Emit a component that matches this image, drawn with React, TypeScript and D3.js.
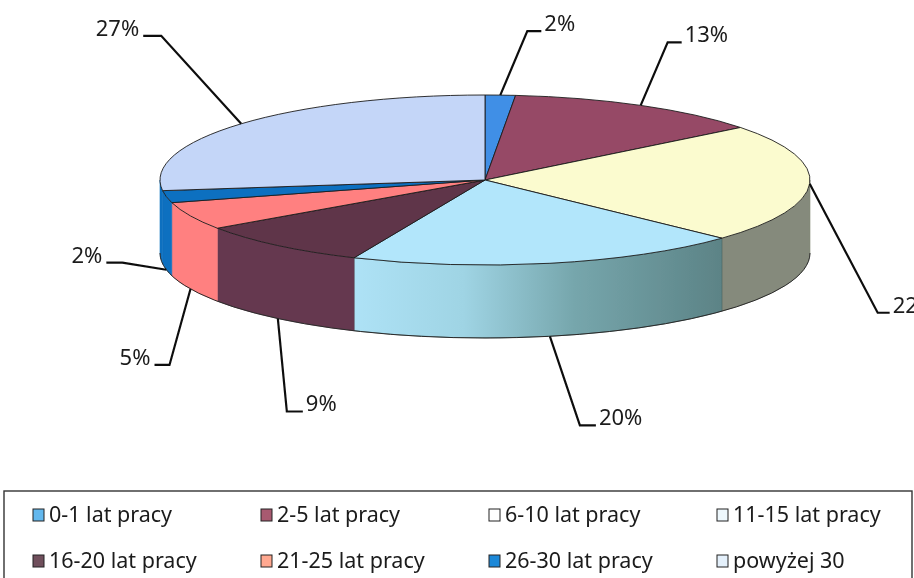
import React from "react";
import * as d3 from "d3";

const categories = ["0-1 lat pracy","2-5 lat pracy","6-10 lat pracy","11-15 lat pracy","16-20 lat pracy","21-25 lat pracy","26-30 lat pracy","powyżej 30"];
const labels = ["2%","13%","22%","20%","9%","5%","2%","27%"];
// slice shares as drawn in the picture (the printed labels are rounded)
const values = [1.5,12.9,22.6,19.6,8.8,5.3,2.3,27.0];
const topColors = ["#3f8fe6","#964866","#fbfbcf","#b2e6fb","#5f3548","#ff8080","#0f70c0","#c4d6f8"];
const sideColors = ["#2f70b8","#6f3048","#858a7b","url(#sideBlue)","#65394f","#ff8080","#0f70c0","#0f70c0"];
const legendColors = ["#63b8ee","#a85a70","#ffffff","#eef8fd","#6f4f5c","#ffa890","#1f88d8","#e4f0fb"];
// elbow and label end, relative to the rim anchor
const elbowOffsets: [number,number,number][] = [
  [27,-64,41],[27,-63,41],[68,129,80],[30,89,46],[9,93,25],[-21,76,-36],[-44,-7,-60],[-80,-88,-98],
];
const labelSide = ["start","start","start","start","start","end","end","end"];

const W=914,H=578,cx=485,cy=180,rx=325,ry=85,depth=73;
const px=(a:number)=>cx+rx*Math.sin(a);
const py=(a:number)=>cy-ry*Math.cos(a);

const pie=d3.pie<number>().sort(null).value(d=>d);
const arcs=pie(values);

function topPath(a0:number,a1:number){
  const large=a1-a0>Math.PI?1:0;
  return `M${cx},${cy}L${px(a0)},${py(a0)}A${rx},${ry} 0 ${large} 1 ${px(a1)},${py(a1)}Z`;
}
function sidePath(a0:number,a1:number){
  const s=Math.max(a0,Math.PI/2),e=Math.min(a1,Math.PI*1.5);
  if(e<=s) return null;
  return `M${px(s)},${py(s)}A${rx},${ry} 0 0 1 ${px(e)},${py(e)}L${px(e)},${py(e)+depth}A${rx},${ry} 0 0 0 ${px(s)},${py(s)+depth}Z`;
}

const cols=d3.scalePoint<number>().domain([0,1,2,3]).range([33,717]);
const rows=d3.scalePoint<number>().domain([0,1]).range([515,561]);
const font="'Noto Sans', sans-serif";

export default function App(){
  return (
    <svg width={W} height={H} viewBox={`0 0 ${W} ${H}`} style={{position:"fixed",left:0,top:0,display:"block",background:"#fff"}}>
      <defs>
        <linearGradient id="sideBlue" gradientUnits="userSpaceOnUse" x1={353} x2={722} y1={0} y2={0}>
          <stop offset="0" stopColor="#aee2f6"/>
          <stop offset="0.3" stopColor="#9fd4e4"/>
          <stop offset="0.6" stopColor="#76a6ac"/>
          <stop offset="1" stopColor="#5c8386"/>
        </linearGradient>
        <filter id="scan" x="-2%" y="-2%" width="104%" height="104%"><feGaussianBlur stdDeviation="0.45"/></filter>
      </defs>
      <g filter="url(#scan)">
        {arcs.map((d,i)=>{
          const p=sidePath(d.startAngle,d.endAngle);
          return p?<path key={i} d={p} fill={sideColors[i]} stroke={sideColors[i].startsWith("url")?"#3a5a5a":sideColors[i]} strokeWidth={0.6} strokeLinejoin="round"/>:null;
        })}
        <path d={`M${px(Math.PI/2)},${py(Math.PI/2)+depth}A${rx},${ry} 0 0 1 ${px(Math.PI*1.5)},${py(Math.PI*1.5)+depth}`} fill="none" stroke="#2a2a2a" strokeWidth={1}/>
        {arcs.map((d,i)=>(
          <path key={i} d={topPath(d.startAngle,d.endAngle)} fill={topColors[i]} stroke="#1c1c1c" strokeWidth={0.9} strokeLinejoin="round"/>
        ))}
        {arcs.map((d,i)=>{
          const m=(d.startAngle+d.endAngle)/2;
          const front=m>Math.PI/2+0.2&&m<Math.PI*1.5;
          const ax=px(m),ay=py(m)+(front?depth:0);
          const [ex,ey,tx]=elbowOffsets[i];
          const start=labelSide[i]==="start";
          return (
            <g key={i}>
              <path d={d3.line()([[ax,ay],[ax+ex,ay+ey],[ax+tx,ay+ey]])!} fill="none" stroke="#111" strokeWidth={2.2}/>
              <text x={ax+tx+(start?3:-4)} y={ay+ey} textAnchor={start?"start":"end"} fontFamily={font} fontSize={22} fill="#1a1a1a">{labels[i]}</text>
            </g>
          );
        })}
        <rect x={4} y={491} width={908} height={100} fill="none" stroke="#333" strokeWidth={1.4}/>
        {categories.map((c,i)=>{
          const col=i%4,row=Math.floor(i/4);
          const x=cols(col)!,y=rows(row)!;
          return (
            <g key={c}>
              <rect x={x} y={y-6} width={11} height={12} fill={legendColors[i]} stroke="#222" strokeWidth={1}/>
              <text x={x+16} y={y+7} fontFamily={font} fontSize={21.5} fill="#1a1a1a">{c}</text>
            </g>
          );
        })}
      </g>
    </svg>
  );
}
